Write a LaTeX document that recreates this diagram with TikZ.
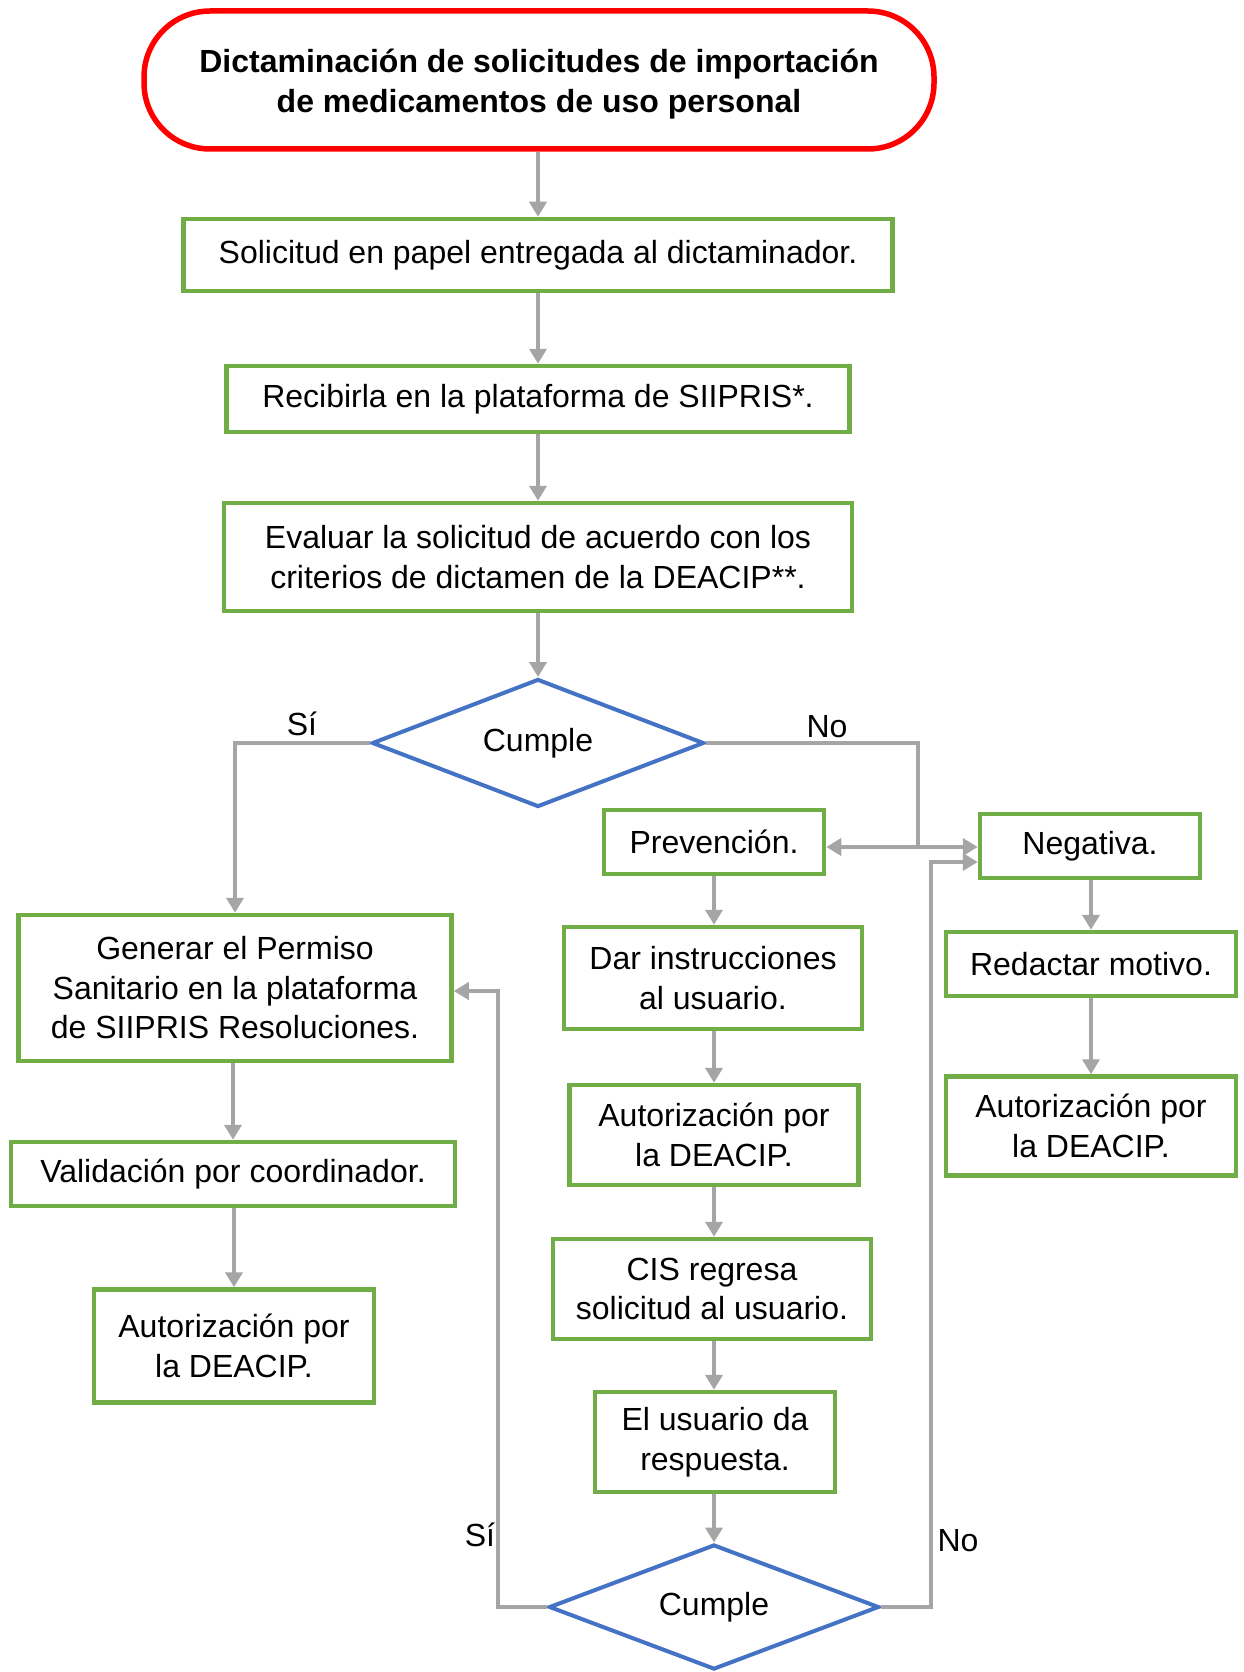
\documentclass[tikz,border=0pt]{standalone}
\usepackage{fontspec}
\setmainfont{Liberation Sans}
\usetikzlibrary{arrows.meta,shapes.geometric}
\definecolor{gbox}{HTML}{70AD47}
\definecolor{bdia}{HTML}{4472C4}
\definecolor{gline}{HTML}{A5A5A5}
\definecolor{rtit}{HTML}{FF0000}
\begin{document}
\begin{tikzpicture}[x=1pt,y=-1pt,
  every node/.style={font=\fontsize{32pt}{39.5pt}\selectfont, inner sep=0pt, align=center},
  gb/.style={draw=gbox, line width=4.5pt, rectangle, fill=white},
  dia/.style={draw=bdia, line width=4pt, diamond, aspect=2.6, fill=white},
  conn/.style={draw=gline, line width=4.5pt},
  arr/.style={conn, -{Triangle[width=17pt,length=15pt]}},
  darr/.style={conn, {Triangle[width=17pt,length=15pt]}-{Triangle[width=17pt,length=15pt]}},
  lab/.style={font=\fontsize{32pt}{39.5pt}\selectfont}
]
\useasboundingbox (0,0) rectangle (1243,1672);
% title
\node[draw=rtit, line width=5.5pt, rounded corners=66pt, minimum width=790pt, minimum height=138pt, font=\bfseries\fontsize{32pt}{39.5pt}\selectfont] (tit) at (539,80) {\raisebox{-5pt}[\height][\depth]{\begin{tabular}{@{}c@{}}Dictaminación de solicitudes de importación\\[0.5pt]de medicamentos de uso personal\end{tabular}}};
% main column
\node[gb, minimum width=709pt, minimum height=72pt] (b1) at (538,255) {Solicitud en papel entregada al dictaminador.};
\node[gb, minimum width=623pt, minimum height=66pt] (b2) at (538,399) {Recibirla en la plataforma de SIIPRIS*.};
\node[gb, minimum width=628pt, minimum height=108pt] (b3) at (538,557) {Evaluar la solicitud de acuerdo con los\\criterios de dictamen de la DEACIP**.};
\node[dia, minimum width=332pt, minimum height=128pt] (d1) at (538,743) {Cumple};
% left column
\node[gb, minimum width=433pt, minimum height=146pt] (gen) at (235,988) {Generar el Permiso\\Sanitario en la plataforma\\de SIIPRIS Resoluciones.};
\node[gb, minimum width=444pt, minimum height=64pt] (val) at (233,1174) {Validación por coordinador.};
\node[gb, minimum width=280pt, minimum height=113pt] (autL) at (234,1346) {Autorización por\\la DEACIP.};
% middle column
\node[gb, minimum width=220pt, minimum height=64pt] (prev) at (714,842) {Prevención.};
\node[gb, minimum width=298pt, minimum height=102pt] (dar) at (713,978) {Dar instrucciones\\al usuario.};
\node[gb, minimum width=289pt, minimum height=100pt] (autM) at (714,1135) {Autorización por\\la DEACIP.};
\node[gb, minimum width=318pt, minimum height=100pt] (cis) at (712,1289) {CIS regresa\\solicitud al usuario.};
\node[gb, minimum width=240pt, minimum height=100pt] (usu) at (715,1442) {El usuario da\\respuesta.};
\node[dia, minimum width=330pt, minimum height=125pt] (d2) at (714,1607) {Cumple};
% right column
\node[gb, minimum width=220pt, minimum height=64pt] (neg) at (1090,846) {Negativa.};
\node[gb, minimum width=290pt, minimum height=64pt] (red) at (1091,964) {Redactar motivo.};
\node[gb, minimum width=290pt, minimum height=99pt] (autR) at (1091,1126) {Autorización por\\la DEACIP.};
% coordinates
\coordinate (j1) at (918,847);
\coordinate (s2) at (498,991);
\coordinate (n2) at (931,862);
% connectors main
\draw[arr] (tit.south -| b1.north) -- (b1.north);
\draw[arr] (b1) -- (b2);
\draw[arr] (b2) -- (b3);
\draw[arr] (b3) -- (d1);
\draw[arr] (d1.west) -| (gen.north);
\draw[conn] (d1.east) -| (j1);
\draw[darr] (prev.east |- j1) -- (neg.west |- j1);
% left
\draw[arr] (gen.south -| val.north) -- (val.north);
\draw[arr] (val.south -| autL.north) -- (autL.north);
% middle
\draw[arr] (prev.south -| 714,0) -- (dar.north -| 714,0);
\draw[arr] (dar.south -| 714,0) -- (autM.north -| 714,0);
\draw[arr] (autM.south -| 714,0) -- (cis.north -| 714,0);
\draw[arr] (cis.south -| 714,0) -- (usu.north -| 714,0);
\draw[arr] (usu.south -| 714,0) -- (d2.north);
\draw[arr] (d2.west) -| (s2) -- (gen.east |- s2);
\draw[arr] (d2.east) -| (n2) -- (neg.west |- n2);
% right
\draw[arr] (neg.south -| red.north) -- (red.north);
\draw[arr] (red) -- (autR);
% labels
\node[lab] (l1) at (302,724) {Sí};
\node[lab] (l2) at (827,727) {No};
\node[lab] (l3) at (480,1535) {Sí};
\node[lab] (l4) at (958,1541) {No};
\end{tikzpicture}
\end{document}
